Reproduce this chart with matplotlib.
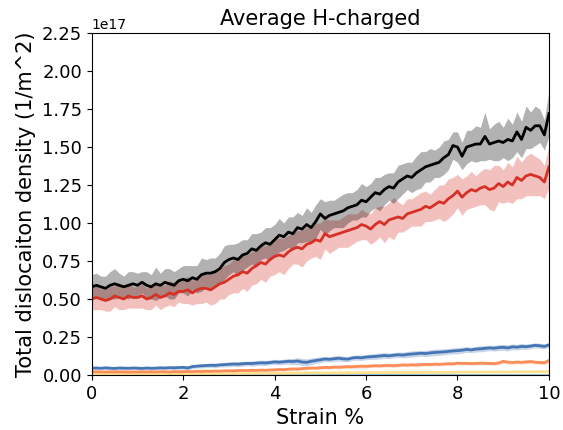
import numpy as np
import matplotlib
matplotlib.use("Agg")
import matplotlib.pyplot as plt

strain = np.round(np.arange(0, 10.01, 0.1), 1)

black_mean = [
    0.58, 0.59, 0.58, 0.57, 0.59, 0.60, 0.59, 0.58, 0.59, 0.60,
    0.59, 0.61, 0.59, 0.58, 0.60, 0.59, 0.61, 0.60, 0.59, 0.62,
    0.63, 0.62, 0.64, 0.63, 0.66, 0.67, 0.67, 0.68, 0.70, 0.74,
    0.76, 0.77, 0.76, 0.79, 0.80, 0.83, 0.82, 0.85, 0.87, 0.86,
    0.89, 0.92, 0.91, 0.94, 0.93, 0.97, 0.96, 0.99, 0.97, 1.01,
    1.06, 1.03, 1.05, 1.06, 1.07, 1.08, 1.10, 1.11, 1.12, 1.15,
    1.14, 1.17, 1.20, 1.19, 1.22, 1.24, 1.23, 1.27, 1.29, 1.31,
    1.30, 1.33, 1.35, 1.37, 1.38, 1.39, 1.40, 1.43, 1.45, 1.51,
    1.50, 1.44, 1.50, 1.51, 1.52, 1.52, 1.57, 1.52, 1.53, 1.54,
    1.53, 1.55, 1.54, 1.60, 1.55, 1.63, 1.61, 1.64, 1.64, 1.58,
    1.72]
black_std = [
    0.08, 0.08, 0.07, 0.08, 0.09, 0.10, 0.08, 0.07, 0.09, 0.08,
    0.08, 0.07, 0.09, 0.08, 0.11, 0.08, 0.09, 0.10, 0.09, 0.08,
    0.09, 0.10, 0.08, 0.09, 0.11, 0.09, 0.10, 0.09, 0.10, 0.11,
    0.10, 0.09, 0.11, 0.10, 0.09, 0.10, 0.11, 0.09, 0.10, 0.11,
    0.10, 0.11, 0.09, 0.10, 0.11, 0.10, 0.09, 0.11, 0.10, 0.11,
    0.10, 0.11, 0.10, 0.09, 0.10, 0.11, 0.10, 0.09, 0.10, 0.11,
    0.10, 0.09, 0.10, 0.11, 0.10, 0.09, 0.10, 0.11, 0.10, 0.09,
    0.10, 0.11, 0.12, 0.10, 0.11, 0.09, 0.10, 0.11, 0.10, 0.09,
    0.10, 0.09, 0.11, 0.10, 0.12, 0.11, 0.16, 0.10, 0.12, 0.13,
    0.10, 0.14, 0.11, 0.13, 0.12, 0.14, 0.12, 0.13, 0.11, 0.10,
    0.15]
red_mean = [
    0.50, 0.51, 0.50, 0.49, 0.50, 0.52, 0.51, 0.50, 0.52, 0.51,
    0.51, 0.52, 0.50, 0.51, 0.53, 0.51, 0.52, 0.54, 0.53, 0.55,
    0.55, 0.56, 0.54, 0.56, 0.57, 0.57, 0.56, 0.58, 0.60, 0.61,
    0.63, 0.65, 0.66, 0.68, 0.67, 0.70, 0.72, 0.74, 0.73, 0.76,
    0.78, 0.79, 0.78, 0.81, 0.83, 0.84, 0.83, 0.86, 0.87, 0.89,
    0.88, 0.93, 0.91, 0.92, 0.93, 0.94, 0.95, 0.96, 0.97, 0.99,
    0.98, 0.96, 0.99, 1.01, 0.99, 1.02, 1.03, 1.04, 1.03, 1.06,
    1.07, 1.08, 1.09, 1.11, 1.10, 1.12, 1.14, 1.13, 1.16, 1.18,
    1.21, 1.17, 1.20, 1.22, 1.21, 1.23, 1.24, 1.22, 1.23, 1.26,
    1.24, 1.27, 1.25, 1.30, 1.28, 1.31, 1.32, 1.31, 1.30, 1.27,
    1.37]
red_std = [
    0.07, 0.08, 0.07, 0.07, 0.08, 0.07, 0.08, 0.07, 0.08, 0.07,
    0.07, 0.08, 0.07, 0.08, 0.07, 0.08, 0.07, 0.08, 0.08, 0.07,
    0.08, 0.09, 0.08, 0.09, 0.10, 0.09, 0.10, 0.11, 0.10, 0.11,
    0.10, 0.11, 0.12, 0.11, 0.12, 0.11, 0.12, 0.11, 0.12, 0.11,
    0.12, 0.11, 0.12, 0.11, 0.10, 0.11, 0.12, 0.11, 0.10, 0.11,
    0.12, 0.10, 0.11, 0.10, 0.09, 0.10, 0.11, 0.10, 0.09, 0.10,
    0.09, 0.10, 0.11, 0.10, 0.12, 0.11, 0.14, 0.10, 0.09, 0.10,
    0.09, 0.10, 0.11, 0.10, 0.09, 0.10, 0.11, 0.12, 0.13, 0.12,
    0.11, 0.12, 0.11, 0.12, 0.10, 0.11, 0.12, 0.13, 0.15, 0.12,
    0.11, 0.13, 0.12, 0.14, 0.12, 0.13, 0.14, 0.13, 0.12, 0.11,
    0.14]
blue_mean = [
    0.045, 0.046, 0.044, 0.047, 0.045, 0.043, 0.046, 0.045, 0.044, 0.046,
    0.045, 0.043, 0.046, 0.044, 0.045, 0.047, 0.046, 0.048, 0.047, 0.049,
    0.050, 0.046, 0.055, 0.058, 0.060, 0.062, 0.064, 0.063, 0.066, 0.068,
    0.070, 0.072, 0.071, 0.074, 0.076, 0.075, 0.078, 0.080, 0.079, 0.082,
    0.086, 0.084, 0.087, 0.090, 0.088, 0.092, 0.085, 0.083, 0.090, 0.095,
    0.100, 0.105, 0.103, 0.107, 0.110, 0.106, 0.104, 0.112, 0.115, 0.113,
    0.118, 0.120, 0.122, 0.125, 0.128, 0.126, 0.130, 0.133, 0.131, 0.135,
    0.138, 0.140, 0.143, 0.141, 0.145, 0.148, 0.150, 0.152, 0.155, 0.158,
    0.160, 0.163, 0.168, 0.165, 0.170, 0.172, 0.175, 0.178, 0.176, 0.180,
    0.182, 0.178, 0.185, 0.183, 0.188, 0.186, 0.190, 0.195, 0.192, 0.188,
    0.198]
blue_std = [
    0.010, 0.011, 0.010, 0.012, 0.010, 0.011, 0.010, 0.012, 0.011, 0.010,
    0.011, 0.010, 0.012, 0.011, 0.010, 0.012, 0.011, 0.010, 0.011, 0.012,
    0.011, 0.012, 0.013, 0.012, 0.014, 0.013, 0.014, 0.015, 0.014, 0.015,
    0.016, 0.015, 0.017, 0.016, 0.015, 0.017, 0.016, 0.018, 0.017, 0.016,
    0.017, 0.018, 0.017, 0.019, 0.020, 0.022, 0.024, 0.023, 0.022, 0.020,
    0.019, 0.018, 0.017, 0.018, 0.019, 0.018, 0.017, 0.016, 0.017, 0.018,
    0.017, 0.018, 0.019, 0.020, 0.019, 0.018, 0.017, 0.018, 0.019, 0.020,
    0.021, 0.020, 0.019, 0.020, 0.021, 0.022, 0.021, 0.020, 0.019, 0.020,
    0.021, 0.020, 0.019, 0.018, 0.019, 0.020, 0.019, 0.018, 0.019, 0.020,
    0.019, 0.020, 0.019, 0.018, 0.019, 0.018, 0.017, 0.016, 0.017, 0.016,
    0.015]
orange_mean = [
    0.020, 0.021, 0.020, 0.019, 0.021, 0.020, 0.021, 0.020, 0.019, 0.020,
    0.020, 0.021, 0.020, 0.021, 0.020, 0.022, 0.021, 0.020, 0.022, 0.021,
    0.022, 0.023, 0.022, 0.024, 0.023, 0.025, 0.024, 0.026, 0.025, 0.027,
    0.028, 0.027, 0.029, 0.030, 0.029, 0.031, 0.030, 0.032, 0.031, 0.033,
    0.034, 0.036, 0.035, 0.038, 0.040, 0.039, 0.042, 0.044, 0.046, 0.045,
    0.048, 0.050, 0.049, 0.052, 0.051, 0.053, 0.055, 0.054, 0.056, 0.058,
    0.057, 0.059, 0.061, 0.060, 0.062, 0.063, 0.061, 0.064, 0.066, 0.065,
    0.067, 0.066, 0.068, 0.070, 0.069, 0.071, 0.070, 0.072, 0.074, 0.073,
    0.078, 0.076, 0.077, 0.075, 0.076, 0.078, 0.077, 0.076, 0.075, 0.078,
    0.090, 0.084, 0.082, 0.085, 0.083, 0.086, 0.088, 0.084, 0.082, 0.080,
    0.095]
orange_std = [
    0.006, 0.006, 0.005, 0.006, 0.006, 0.005, 0.006, 0.006, 0.005, 0.006,
    0.006, 0.005, 0.006, 0.006, 0.005, 0.006, 0.006, 0.005, 0.006, 0.006,
    0.006, 0.007, 0.006, 0.007, 0.007, 0.006, 0.007, 0.007, 0.008, 0.007,
    0.008, 0.007, 0.008, 0.008, 0.009, 0.008, 0.009, 0.008, 0.009, 0.009,
    0.009, 0.010, 0.009, 0.010, 0.010, 0.011, 0.010, 0.011, 0.010, 0.011,
    0.011, 0.010, 0.011, 0.010, 0.011, 0.010, 0.011, 0.010, 0.011, 0.010,
    0.011, 0.010, 0.011, 0.012, 0.011, 0.010, 0.011, 0.012, 0.011, 0.010,
    0.011, 0.012, 0.011, 0.010, 0.011, 0.012, 0.011, 0.010, 0.011, 0.012,
    0.011, 0.012, 0.011, 0.010, 0.011, 0.012, 0.011, 0.010, 0.011, 0.012,
    0.013, 0.012, 0.011, 0.012, 0.011, 0.012, 0.013, 0.012, 0.011, 0.012,
    0.014]
yellow_mean = [
    0.008, 0.008, 0.009, 0.008, 0.008, 0.009, 0.008, 0.009, 0.008, 0.009,
    0.009, 0.008, 0.009, 0.009, 0.008, 0.009, 0.009, 0.010, 0.009, 0.009,
    0.010, 0.009, 0.010, 0.010, 0.011, 0.010, 0.010, 0.011, 0.010, 0.011,
    0.011, 0.012, 0.011, 0.011, 0.012, 0.011, 0.012, 0.012, 0.011, 0.012,
    0.012, 0.013, 0.012, 0.013, 0.013, 0.012, 0.013, 0.014, 0.013, 0.014,
    0.014, 0.013, 0.014, 0.014, 0.015, 0.014, 0.015, 0.014, 0.015, 0.015,
    0.015, 0.016, 0.015, 0.016, 0.016, 0.015, 0.016, 0.017, 0.016, 0.017,
    0.017, 0.016, 0.017, 0.017, 0.018, 0.017, 0.018, 0.017, 0.018, 0.018,
    0.018, 0.019, 0.018, 0.019, 0.019, 0.018, 0.019, 0.020, 0.019, 0.020,
    0.020, 0.019, 0.020, 0.021, 0.020, 0.021, 0.020, 0.021, 0.022, 0.021,
    0.022]
lightblue_mean = [
    0.003, 0.003, 0.003, 0.003, 0.003, 0.003, 0.003, 0.003, 0.003, 0.003,
    0.003, 0.003, 0.003, 0.003, 0.003, 0.003, 0.003, 0.003, 0.003, 0.003,
    0.003, 0.003, 0.003, 0.003, 0.003, 0.003, 0.003, 0.003, 0.003, 0.003,
    0.003, 0.003, 0.003, 0.003, 0.003, 0.003, 0.003, 0.003, 0.003, 0.003,
    0.003, 0.003, 0.003, 0.003, 0.003, 0.003, 0.003, 0.003, 0.003, 0.003,
    0.003, 0.003, 0.003, 0.003, 0.003, 0.003, 0.003, 0.003, 0.003, 0.003,
    0.003, 0.003, 0.003, 0.003, 0.003, 0.003, 0.003, 0.003, 0.003, 0.003,
    0.003, 0.003, 0.003, 0.003, 0.003, 0.003, 0.003, 0.003, 0.003, 0.003,
    0.003, 0.003, 0.003, 0.003, 0.003, 0.003, 0.003, 0.003, 0.003, 0.003,
    0.003, 0.003, 0.003, 0.003, 0.003, 0.003, 0.003, 0.003, 0.003, 0.003,
    0.003]

scale = 1e17
series = [
    (lightblue_mean, None, "#91bfdb"),
    (yellow_mean, None, "#fee090"),
    (orange_mean, orange_std, "#fc8d59"),
    (blue_mean, blue_std, "#4575b4"),
    (red_mean, red_std, "#d73027"),
    (black_mean, black_std, "black"),
]

fig = plt.figure(figsize=(5.63, 4.30), dpi=100)
ax = fig.add_axes([0.163, 0.128, 0.812, 0.795])
for mean, std, color in series:
    m = np.array(mean) * scale
    if std is not None:
        s = np.array(std) * scale
        ax.fill_between(strain, m - s, m + s, color=color, alpha=0.3, linewidth=0)
    else:
        ax.fill_between(strain, m * 0.7, m * 1.3, color=color, alpha=0.3, linewidth=0)
    ax.plot(strain, m, color=color, linewidth=2)

ax.set_xlim(0, 10)
ax.set_ylim(0, 2.25e17)
ax.set_yticks(np.arange(0, 2.26, 0.25) * scale)
ax.set_xticks([0, 2, 4, 6, 8, 10])
ax.tick_params(labelsize=13)
ax.yaxis.get_offset_text().set_fontsize(10)
ax.set_xlabel("Strain %", fontsize=15)
ax.set_ylabel("Total dislocaiton density (1/m^2)", fontsize=15)
ax.set_title("Average H-charged", fontsize=15)
fig.savefig("out.png", dpi=100)
